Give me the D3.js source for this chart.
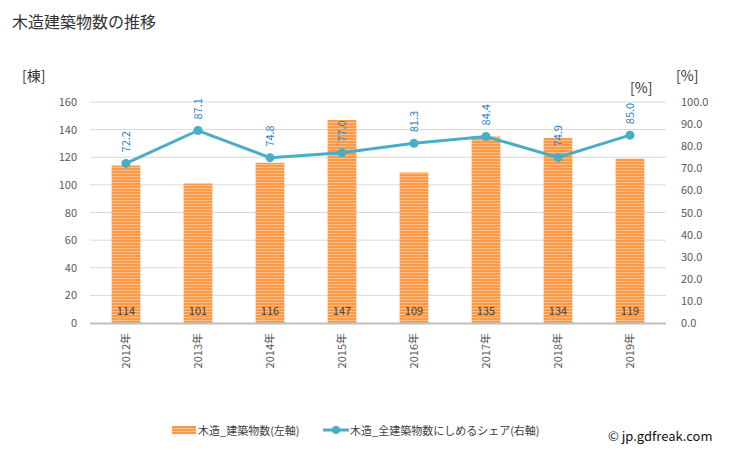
<!DOCTYPE html>
<html><head><meta charset="utf-8">
<script src="https://cdn.jsdelivr.net/npm/d3@7"></script>
<style>body{margin:0;background:#fff;font-family:"Noto Sans CJK JP","Noto Sans",sans-serif;}</style>
</head><body><svg id="c" width="729" height="450"></svg>
<script>
const categories = ["2012年","2013年","2014年","2015年","2016年","2017年","2018年","2019年"];
const barValues = [114,101,116,147,109,135,134,119];
const shareValues = [72.2,87.1,74.8,77.0,81.3,84.4,74.9,85.0];
const leftTicks = [0,20,40,60,80,100,120,140,160];
const rightTicks = [0,10,20,30,40,50,60,70,80,90,100];
const barName = "木造_建築物数(左軸)";
const lineName = "木造_全建築物数にしめるシェア(右軸)";

const svg = d3.select("#c");
const L = 90, R = 666, T = 102, B = 323;
const font = "'Noto Sans CJK JP','Noto Sans',sans-serif";

const defs = svg.append("defs");
const pat = defs.append("pattern").attr("id","stripe").attr("patternUnits","userSpaceOnUse").attr("width",4).attr("height",3);
pat.append("rect").attr("width",4).attr("height",3).attr("fill","#fdbf86");
pat.append("rect").attr("width",4).attr("height",2).attr("fill","#f99a48");

const x = d3.scaleBand().domain(categories).range([L,R]).paddingInner(0.6).paddingOuter(0.3);
const xc = d3.scalePoint().domain(categories).range([L,R]).padding(0.5);
const yL = d3.scaleLinear().domain([0,160]).range([B,T]);
const yR = d3.scaleLinear().domain([0,100]).range([B,T]);

svg.append("text").attr("x",12).attr("y",28).attr("font-size",16).attr("fill","#333").attr("font-family",font).text("木造建築物数の推移");

// gridlines
svg.append("g").selectAll("line").data(leftTicks.filter(d=>d>0)).join("line")
  .attr("x1",L).attr("x2",R).attr("y1",d=>yL(d)).attr("y2",d=>yL(d))
  .attr("stroke","#d9d9d9").attr("stroke-width",1);

// left axis
const la = svg.append("g").attr("transform",`translate(${L-10},0)`)
  .call(d3.axisLeft(yL).tickValues(leftTicks).tickSize(0).tickFormat(d3.format("d")));
la.select(".domain").remove();
la.selectAll("text").attr("font-size",11).attr("fill","#595959").attr("font-family",font);

// right axis
const ra = svg.append("g").attr("transform",`translate(${R+12},0)`)
  .call(d3.axisRight(yR).tickValues(rightTicks).tickSize(0).tickFormat(d3.format(".1f")));
ra.select(".domain").remove();
ra.selectAll("text").attr("font-size",11).attr("fill","#595959").attr("font-family",font);

svg.append("text").attr("x",22).attr("y",81).attr("font-size",14).attr("fill","#333").attr("font-family",font).text("[棟]");
svg.append("text").attr("x",676).attr("y",81).attr("font-size",14).attr("fill","#333").attr("font-family",font).text("[%]");
svg.append("text").attr("x",630).attr("y",93).attr("font-size",14).attr("fill","#333").attr("font-family",font).text("[%]");

// bars
svg.append("g").selectAll("rect").data(barValues).join("rect")
  .attr("x",(d,i)=>x(categories[i])).attr("width",x.bandwidth())
  .attr("y",d=>yL(d)).attr("height",d=>B-yL(d)).attr("fill","url(#stripe)");

// baseline
svg.append("line").attr("x1",L).attr("x2",R).attr("y1",B+0.5).attr("y2",B+0.5).attr("stroke","#bfbfbf").attr("stroke-width",2);

// bar labels
svg.append("g").selectAll("text").data(barValues).join("text")
  .attr("x",(d,i)=>xc(categories[i])).attr("y",B-8).attr("text-anchor","middle")
  .attr("font-size",11).attr("fill","#404040").attr("font-family",font).text(d=>d);

// x labels
svg.append("g").selectAll("text").data(categories).join("text")
  .attr("transform",d=>`translate(${xc(d)+4},${B+10}) rotate(-90)`)
  .attr("text-anchor","end").attr("font-size",11).attr("fill","#595959").attr("font-family",font).text(d=>d);

// line
const line = d3.line().x((d,i)=>xc(categories[i])).y(d=>yR(d));
svg.append("path").datum(shareValues).attr("d",line).attr("fill","none").attr("stroke","#4bacc6").attr("stroke-width",3);
svg.append("g").selectAll("circle").data(shareValues).join("circle")
  .attr("cx",(d,i)=>xc(categories[i])).attr("cy",d=>yR(d)).attr("r",4.5).attr("fill","#4bacc6");
svg.append("g").selectAll("text").data(shareValues).join("text")
  .attr("transform",(d,i)=>`translate(${xc(categories[i])+4},${yR(d)-11}) rotate(-90)`)
  .attr("text-anchor","start").attr("font-size",11).attr("fill","#1f80c8").attr("font-family",font).text(d=>d.toFixed(1));

// legend
const lg = svg.append("g");
lg.append("rect").attr("x",172).attr("y",426).attr("width",24).attr("height",8).attr("fill","url(#stripe)");
lg.append("text").attr("x",198).attr("y",435).attr("font-size",11).attr("fill","#404040").attr("font-family",font).text(barName);
lg.append("line").attr("x1",323).attr("x2",349).attr("y1",430).attr("y2",430).attr("stroke","#4bacc6").attr("stroke-width",3);
lg.append("circle").attr("cx",336).attr("cy",430).attr("r",4).attr("fill","#4bacc6");
lg.append("text").attr("x",350).attr("y",435).attr("font-size",11).attr("fill","#404040").attr("font-family",font).text(lineName);
svg.append("text").attr("x",608).attr("y",441).attr("font-size",13).attr("fill","#111").attr("font-family",font).text("© jp.gdfreak.com");
</script></body></html>
